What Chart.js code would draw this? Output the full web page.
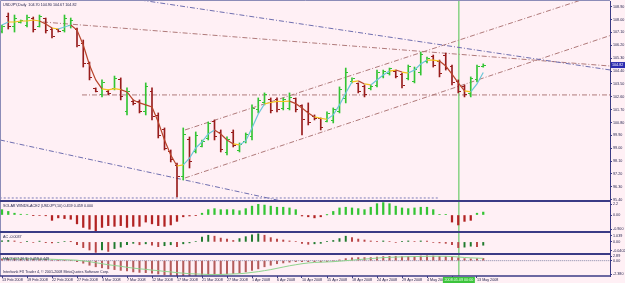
<!DOCTYPE html>
<html>
<head>
    <meta charset="utf-8">
    <title>USDJPY,Daily</title>
    <script src="https://cdn.jsdelivr.net/npm/chart.js@4.4.0/dist/chart.umd.min.js"></script>
    <style>
        html, body {
            margin: 0;
            padding: 0;
            background-color: #fff0f5;
            overflow: hidden;
        }
        canvas {
            display: block;
        }
    </style>
</head>
<body>
    <canvas id="mt4Chart" width="625" height="283"></canvas>

    <script>
        // bar 0 = 13 Feb 2008, one bar per trading day (feed has Sunday bars)
        const dateLabels = ['13 Feb 2008', '19 Feb 2008', '22 Feb 2008', '27 Feb 2008', '3 Mar 2008',
            '7 Mar 2008', '12 Mar 2008', '17 Mar 2008', '21 Mar 2008', '27 Mar 2008', '1 Apr 2008',
            '6 Apr 2008', '10 Apr 2008', '15 Apr 2008', '18 Apr 2008', '24 Apr 2008', '29 Apr 2008',
            '4 May 2008', '8 May 2008', '13 May 2008'];
        const labelBars = [0, 4, 8, 12, 16, 20, 24, 28, 32, 36, 40, 44, 48, 52, 56, 60, 64, 68, 72, 76];

        const open = [107.15,108.20,107.50,107.80,107.60,108.10,107.55,108.05,107.30,107.30,
            107.25,107.60,107.30,106.30,104.90,103.15,102.75,103.00,103.20,103.80,
            101.60,102.30,102.25,101.55,103.00,101.30,100.30,98.80,97.80,97.00,
            99.60,98.80,99.15,99.70,100.85,100.10,98.70,100.10,98.85,99.45,
            99.80,101.70,102.20,102.40,102.40,101.80,101.80,102.45,102.00,101.60,
            101.25,101.05,100.90,100.95,101.60,102.50,103.65,103.50,103.30,103.15,
            103.40,104.00,104.20,104.40,104.15,103.90,103.70,104.30,105.05,105.45,
            105.05,105.50,104.70,103.70,103.30,102.80,103.80,104.70];
        const high = [107.62,108.46,108.32,107.97,108.32,108.18,108.32,108.11,107.41,107.34,
            108.32,108.11,107.41,106.57,105.03,103.22,103.78,103.08,104.05,103.92,
            103.22,102.38,102.38,103.57,103.22,101.47,100.42,98.88,97.97,100.42,
            99.79,100.14,99.58,100.84,100.98,100.28,99.79,100.28,99.37,100.07,
            102.03,102.52,102.87,102.52,102.52,102.52,102.87,102.52,102.03,102.17,
            101.33,101.12,101.54,101.82,103.29,104.61,103.92,103.57,103.43,103.43,
            104.47,104.47,104.61,104.47,104.26,104.82,104.68,105.73,105.38,105.52,
            105.17,105.66,104.82,103.78,103.43,103.99,104.82,104.90];
        const low = [107.06,107.34,107.13,107.76,107.48,107.13,107.48,107.06,106.71,107.13,
            107.13,107.41,106.08,104.68,103.78,102.94,102.59,102.73,103.08,102.38,
            101.33,102.03,101.47,101.33,100.98,99.72,98.88,98.04,95.59,96.78,
            97.62,98.67,99.09,99.58,99.58,98.74,98.53,99.09,98.74,99.37,
            99.58,101.47,102.03,101.47,101.54,101.68,101.68,101.54,99.93,100.63,
            100.98,100.28,100.84,100.77,101.47,102.17,103.57,102.87,102.59,103.08,
            103.29,103.92,104.12,103.92,103.22,103.78,103.57,104.12,104.96,104.68,
            103.99,104.47,103.43,102.87,102.59,102.59,103.64,104.67];
        const close = [107.55,107.55,108.10,107.92,108.15,107.30,108.20,107.25,106.85,107.18,
            108.05,107.95,106.20,104.90,103.95,103.00,103.60,102.80,103.90,102.60,
            103.00,102.10,101.60,103.30,101.20,99.90,99.00,98.20,97.00,99.95,
            98.10,99.90,99.50,100.70,99.80,98.90,99.60,99.20,99.25,99.95,
            101.80,102.35,102.75,101.65,101.70,102.40,102.55,101.70,101.00,100.80,
            101.05,100.45,101.45,101.70,103.10,104.30,103.85,103.00,102.75,103.35,
            104.30,104.40,104.55,104.00,103.40,104.70,104.50,105.55,105.30,104.80,
            104.20,104.60,103.60,103.00,102.75,103.85,104.70,104.82];
        const ma = [107.62,107.83,107.83,107.90,107.90,107.97,107.90,107.69,107.41,107.34,
            107.48,107.62,107.27,106.22,104.82,103.78,103.15,103.08,103.17,103.10,
            102.94,102.38,102.17,102.03,101.89,100.84,99.58,98.53,97.76,97.84,
            98.30,99.02,99.44,100.00,100.28,100.00,99.58,99.30,99.23,99.51,
            100.42,101.40,102.10,102.20,102.28,102.27,102.30,102.12,101.82,101.47,
            101.19,101.10,101.02,101.33,102.03,102.87,103.64,103.71,103.50,103.43,
            103.78,104.12,104.40,104.47,104.33,104.26,104.47,104.89,105.17,105.17,
            105.10,104.75,104.19,103.57,103.01,102.94,103.50,104.30];

        const solarWinds = [0.84,0.56,0.28,0.12,0.08,-0.05,-0.08,-0.12,-0.84,-0.45,
            -0.56,-0.67,-1.39,-1.95,-2.23,-2.55,-1.95,-1.67,-1.78,-1.67,
            -1.95,-1.78,-1.78,-1.11,-1.39,-1.67,-1.78,-1.56,-1.00,-0.28,
            -0.15,-0.10,0.28,0.84,1.00,0.84,0.84,0.84,0.67,1.00,
            1.39,1.67,1.56,1.39,1.22,1.22,1.11,0.84,-0.15,-0.28,
            -0.45,-0.28,0.02,0.56,1.11,1.22,1.11,1.00,0.84,1.22,
            1.78,1.95,1.78,1.39,1.11,1.00,1.11,1.22,1.22,0.84,
            0.10,0.05,-1.11,-1.56,-1.00,-0.84,0.28,0.459];
        const ac = [0.10,0.15,0.10,-0.05,0.05,-0.05,0.08,-0.08,-0.10,-0.05,
            0.05,0.02,-0.30,-0.60,-0.85,-1.10,-0.85,-1.00,-0.70,-0.55,
            -0.30,-0.15,-0.30,-0.20,-0.35,-0.50,-0.40,-0.30,-0.50,-0.20,
            -0.10,0.05,0.50,0.70,0.60,0.40,0.30,0.15,0.35,0.55,
            0.75,0.85,0.70,0.45,0.30,0.20,0.10,0.05,-0.15,-0.25,
            -0.20,-0.15,0.05,0.15,0.35,0.60,0.45,0.30,0.20,0.10,
            0.05,0.10,0.05,-0.05,0.05,0.10,0.05,0.10,0.08,-0.05,
            -0.10,-0.15,-0.30,-0.60,-0.55,-0.45,-0.50,-0.35];
        const macd = [0.35,0.35,0.40,0.35,0.35,0.30,0.30,0.25,0.15,0.05,
            0.05,0.00,-0.20,-0.50,-0.90,-1.20,-1.40,-1.60,-1.75,-1.90,
            -2.00,-2.20,-2.30,-2.35,-2.45,-2.60,-2.75,-2.85,-2.95,-2.95,
            -2.95,-2.90,-2.85,-2.75,-2.70,-2.65,-2.60,-2.50,-2.40,-2.20,
            -1.90,-1.60,-1.20,-0.90,-0.60,-0.45,-0.30,-0.20,-0.20,-0.20,
            -0.20,-0.25,-0.20,-0.05,0.15,0.40,0.55,0.60,0.60,0.60,
            0.70,0.80,0.85,0.85,0.80,0.80,0.80,0.90,0.95,0.90,
            0.85,0.80,0.70,0.55,0.40,0.35,0.40,0.459];
        const macdSignal = [0.40,0.38,0.37,0.36,0.35,0.34,0.32,0.30,0.27,0.22,
            0.18,0.14,0.08,-0.05,-0.20,-0.40,-0.60,-0.80,-0.95,-1.10,
            -1.30,-1.45,-1.60,-1.70,-1.85,-1.95,-2.10,-2.20,-2.35,-2.45,
            -2.55,-2.60,-2.65,-2.70,-2.70,-2.70,-2.65,-2.60,-2.55,-2.45,
            -2.30,-2.15,-1.95,-1.75,-1.50,-1.25,-1.00,-0.80,-0.60,-0.45,
            -0.35,-0.30,-0.25,-0.20,-0.10,0.00,0.10,0.20,0.30,0.40,
            0.50,0.60,0.65,0.70,0.75,0.78,0.80,0.82,0.85,0.86,
            0.86,0.85,0.80,0.72,0.62,0.55,0.50,0.449];

        // trendline anchors: [bar, price]
        const blueLines = [
            [[0, 110.81], [100, 104.30]],
            [[-0.32, 99.58], [50, 94.81]]
        ];
        const brownLines = [
            [[6.56, 107.83], [100, 104.66]],
            [[29.28, 100.28], [100, 110.42]],
            [[29.28, 96.92], [100, 107.28]],
            [[12.8, 102.73], [100, 102.73]]
        ];
        const supportLine = [[-1, 95.52], [70, 95.52]];

        const priceTicks = [108.90, 108.00, 107.10, 106.20, 105.30, 104.40, 103.50, 102.60,
            101.70, 100.80, 99.90, 99.00, 98.10, 97.20, 96.30, 95.40];
        const solarTickText = ['2.2', '0.00', '-0.900'];
        const acTickText = ['1.039', '0.00', '-0.0402'];
        const macdTickText = ['2.89', '0.00', '-2.380'];

        const paneTitles = [
            'USDJPY,Daily  104.70 104.90 104.67 104.82',
            'SOLAR WINDS-ACE2 (USDJPY,10) 0.459 0.459 0.000',
            'AC -0.0037',
            'MACD(12,26,9) 0.459 0.449'
        ];
        const copyright = 'Interbank FX Trader 4, \u00a9 2001-2008 MetaQuotes Software Corp.';
        const cursorBar = 73.1;
        const cursorDate = '2008.05.09 00:00';

        const BG = '#fff0f5';
        const NAVY = '#3b3b85';
        const TEXT = '#24244e';
        const UP = '#33c433';
        const DOWN = '#981c1c';
        const FONT = { family: 'Liberation Sans', size: 3.7 };

        const xy = arr => arr.map((v, i) => ({ x: i, y: v }));
        const pts = line => line.map(([x, y]) => ({ x, y }));

        function tickImage(color, leftSide) {
            const c = document.createElement('canvas');
            c.width = 5;
            c.height = 1;
            const g = c.getContext('2d');
            g.fillStyle = color;
            g.fillRect(leftSide ? 0 : 3, 0, 2, 1);
            return c;
        }
        const ticksImg = {
            openUp: tickImage(UP, true), openDn: tickImage(DOWN, true),
            closeUp: tickImage(UP, false), closeDn: tickImage(DOWN, false)
        };
        const isUp = i => close[i] >= open[i];

        function paneAxis(weight, min, max, edge, texts, values) {
            const d = edge * (max - min) / weight;
            const tickValues = values || [max - d, 0, min + d];
            return {
                type: 'linear',
                position: 'right',
                stack: 'panes',
                stackWeight: weight,
                min: min,
                max: max,
                beginAtZero: false,
                border: { display: true, color: NAVY, width: 1 },
                grid: { display: true, drawOnChartArea: false, drawTicks: true, tickLength: 2, color: NAVY },
                afterBuildTicks: s => { s.ticks = tickValues.map(v => ({ value: v })); },
                afterFit: s => { s.width = 15; s.paddingTop = 0; s.paddingBottom = 0; },
                ticks: {
                    autoSkip: false,
                    padding: 1,
                    color: TEXT,
                    font: FONT,
                    callback: (v, i) => texts[i]
                }
            };
        }

        const dashed = (line, color) => ({
            type: 'line',
            data: pts(line),
            yAxisID: 'y',
            borderColor: color,
            borderWidth: 1,
            borderDash: [5, 2, 1, 2],
            pointRadius: 0,
            tension: 0
        });

        const paneFrame = {
            id: 'paneFrame',
            beforeDraw(chart) {
                const ctx = chart.ctx;
                ctx.save();
                ctx.fillStyle = BG;
                ctx.fillRect(0, 0, chart.width, chart.height);
                ctx.restore();
            },
            beforeDatasetsDraw(chart) {
                const { ctx, chartArea: a, scales } = chart;
                const x = scales.x.getPixelForValue(cursorBar);
                ctx.save();
                ctx.strokeStyle = '#4cc44c';
                ctx.lineWidth = 1;
                ctx.beginPath();
                ctx.moveTo(x, a.top);
                ctx.lineTo(x, a.bottom);
                ctx.stroke();
                ctx.restore();
                ctx.imageSmoothingEnabled = false;
            },
            afterDraw(chart) {
                const { ctx, chartArea: a, scales } = chart;
                ctx.save();
                ctx.strokeStyle = '#8c8cb8';
                ctx.lineWidth = 1;
                ctx.beginPath();
                ctx.moveTo(0.5, a.bottom);
                ctx.lineTo(0.5, 0.5);
                ctx.lineTo(a.right, 0.5);
                ctx.stroke();

                ctx.strokeStyle = NAVY;
                ctx.lineWidth = 2;
                ['y1', 'y2', 'y3'].forEach(id => {
                    const y = Math.round(scales[id].top);
                    ctx.beginPath();
                    ctx.moveTo(a.left - 1, y);
                    ctx.lineTo(a.right, y);
                    ctx.stroke();
                });
                ctx.lineWidth = 1.5;
                ctx.beginPath();
                ctx.moveTo(a.left - 1, a.bottom);
                ctx.lineTo(a.right, a.bottom);
                ctx.stroke();

                // pane captions
                ctx.font = FONT.size + 'px "' + FONT.family + '"';
                ctx.fillStyle = TEXT;
                ctx.textBaseline = 'middle';
                ctx.textAlign = 'left';
                ctx.fillText(paneTitles[0], a.left + 2, scales.y.top + 4);
                ctx.fillText(paneTitles[1], a.left + 2, scales.y1.top + 5);
                ctx.fillText(paneTitles[2], a.left + 2, scales.y2.top + 5);
                ctx.fillText(paneTitles[3], a.left + 2, scales.y3.top + 5);
                ctx.fillText(copyright, a.left + 2, a.bottom - 4);

                // last price marker
                const last = close[close.length - 1];
                const py = scales.y.getPixelForValue(last);
                ctx.fillStyle = '#2b2bb0';
                ctx.fillRect(a.right + 1, py - 3, 15, 6);
                ctx.fillStyle = '#ffffff';
                ctx.fillText(last.toFixed(2), a.right + 2, py);

                // cursor date box
                const cx = scales.x.getPixelForValue(cursorBar);
                ctx.fillStyle = '#3cc43c';
                ctx.fillRect(cx - 16, a.bottom + 1, 32, 6);
                ctx.fillStyle = '#eaffea';
                ctx.textAlign = 'center';
                ctx.fillText(cursorDate, cx, a.bottom + 4);
                ctx.restore();
            }
        };

        new Chart(document.getElementById('mt4Chart'), {
            type: 'line',
            data: {
                datasets: [
                    {
                        type: 'line',
                        data: xy(ma),
                        yAxisID: 'y',
                        borderWidth: 1.2,
                        pointRadius: 0,
                        tension: 0,
                        segment: {
                            borderColor: c => {
                                const d = c.p1.parsed.y - c.p0.parsed.y;
                                return d > 0.12 ? '#6cc6d8' : (d < -0.12 ? '#b8452c' : '#f2c21c');
                            }
                        }
                    },
                    {
                        type: 'line',
                        data: xy(open),
                        yAxisID: 'y',
                        showLine: false,
                        pointRadius: 2,
                        pointStyle: c => (isUp(c.dataIndex) ? ticksImg.openUp : ticksImg.openDn)
                    },
                    {
                        type: 'line',
                        data: xy(close),
                        yAxisID: 'y',
                        showLine: false,
                        pointRadius: 2,
                        pointStyle: c => (isUp(c.dataIndex) ? ticksImg.closeUp : ticksImg.closeDn)
                    },
                    {
                        type: 'bar',
                        data: open.map((_, i) => ({ x: i, y: [low[i], high[i]] })),
                        yAxisID: 'y',
                        grouped: false,
                        barThickness: 1,
                        backgroundColor: c => (isUp(c.dataIndex) ? UP : DOWN)
                    },
                    ...blueLines.map(l => dashed(l, '#6f6fb0')),
                    ...brownLines.map(l => dashed(l, '#b07a7a')),
                    Object.assign(dashed(supportLine, '#7b7bb8'), { borderDash: [2, 2] }),
                    {
                        type: 'bar',
                        data: xy(solarWinds),
                        yAxisID: 'y1',
                        grouped: false,
                        barThickness: 1.6,
                        backgroundColor: c => (solarWinds[c.dataIndex] >= 0 ? UP : '#b22222')
                    },
                    {
                        type: 'bar',
                        data: xy(ac),
                        yAxisID: 'y2',
                        grouped: false,
                        barThickness: 1.3,
                        backgroundColor: c => {
                            const i = c.dataIndex;
                            return i > 0 && ac[i] < ac[i - 1] ? '#b84444' : '#1f7a2e';
                        }
                    },
                    {
                        type: 'line',
                        data: xy(macdSignal),
                        yAxisID: 'y3',
                        borderColor: '#8fd48f',
                        borderWidth: 1,
                        pointRadius: 0,
                        tension: 0
                    },
                    {
                        type: 'bar',
                        data: xy(macd),
                        yAxisID: 'y3',
                        grouped: false,
                        barThickness: 1.4,
                        backgroundColor: '#b45c5c'
                    },
                    {
                        type: 'line',
                        data: [{ x: -1, y: 0 }, { x: 100, y: 0 }],
                        yAxisID: 'y3',
                        borderColor: '#8484a8',
                        borderWidth: 1,
                        borderDash: [1, 1],
                        pointRadius: 0
                    }
                ]
            },
            options: {
                responsive: false,
                devicePixelRatio: 1,
                animation: false,
                events: [],
                layout: { padding: { top: 1, left: 1, right: 0, bottom: 0 }, autoPadding: false },
                plugins: {
                    legend: { display: false },
                    tooltip: { enabled: false }
                },
                scales: {
                    x: {
                        type: 'linear',
                        position: 'bottom',
                        min: -0.16,
                        max: 97.28,
                        offset: false,
                        grid: { display: true, drawOnChartArea: false, drawTicks: true, tickLength: 2, color: NAVY, offset: false },
                        border: { display: false },
                        afterBuildTicks: s => { s.ticks = labelBars.map(v => ({ value: v })); },
                        afterFit: s => { s.height = 7; s.paddingLeft = 0; s.paddingRight = 0; },
                        ticks: {
                            autoSkip: false,
                            maxRotation: 0,
                            minRotation: 0,
                            align: 'start',
                            padding: 0,
                            color: TEXT,
                            font: FONT,
                            callback: (v, i) => dateLabels[i]
                        }
                    },
                    y: paneAxis(200, 95.31, 109.30, 0, priceTicks.map(v => v.toFixed(2)), priceTicks),
                    y1: paneAxis(31, -2.67, 2.2, 3, solarTickText),
                    y2: paneAxis(22, -1.27, 1.04, 3.5, acTickText),
                    y3: paneAxis(22, -3.0, 1.3, 2, macdTickText)
                }
            },
            plugins: [paneFrame]
        });
    </script>
</body>
</html>
